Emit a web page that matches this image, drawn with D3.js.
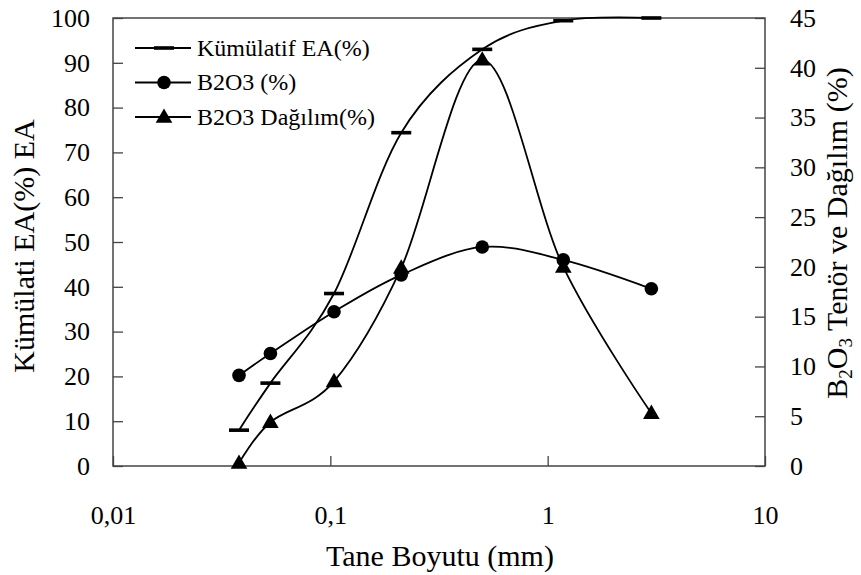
<!DOCTYPE html>
<html>
<head>
<meta charset="utf-8">
<script src="https://cdn.jsdelivr.net/npm/d3@7"></script>
<style>
  body { margin: 0; background: #fff; }
  svg text { font-family: "Liberation Serif", "Times New Roman", serif; fill: #000; }
</style>
</head>
<body>
<div id="chart"></div>
<script>
// datos
const taneBoyutu = [0.038, 0.053, 0.104, 0.212, 0.5, 1.18, 3.0]   // mm
const kumulatifEA = [8, 18.5, 38.5, 74.4, 93, 99.4, 100]          // eje izquierdo
const b2o3Tenor = [9.1, 11.3, 15.5, 19.2, 22.0, 20.7, 17.8]       // eje derecho
const b2o3Dagilim = [0.3, 4.4, 8.5, 19.9, 40.8, 20.0, 5.3]        // eje derecho

const xTicks = [0.01, 0.1, 1, 10]
const xTickLabels = ["0,01", "0,1", "1", "10"]
const yLeftTicks = d3.range(0, 101, 10)
const yRightTicks = d3.range(0, 46, 5)

const legendItems = ["Kümülatif EA(%)", "B2O3 (%)", "B2O3 Dağılım(%)"]

const width = 861
const height = 575
const margin = { top: 18, bottom: 109, left: 113, right: 96 }
const innerW = width - margin.left - margin.right
const innerH = height - margin.top - margin.bottom

const svg = d3.select("div#chart").append("svg").attr("width", width).attr("height", height)

const x = d3.scaleLog().domain([0.01, 10]).range([0, innerW])
const yL = d3.scaleLinear().domain([0, 100]).range([innerH, 0])
const yR = d3.scaleLinear().domain([0, 45]).range([innerH, 0])

const g = svg.append("g").attr("transform", `translate(${margin.left},${margin.top})`)

// marco
g.append("rect").attr("width", innerW).attr("height", innerH)
  .attr("fill", "none").attr("stroke", "#444").attr("stroke-width", 1.5)

const tickFont = 26

const xAxis = d3.axisBottom(x).tickValues(xTicks).tickFormat((d, i) => xTickLabels[i])
  .tickSizeInner(-10).tickSizeOuter(0).tickPadding(40)
const yAxisL = d3.axisLeft(yL).tickValues(yLeftTicks).tickSizeInner(-10).tickSizeOuter(0).tickPadding(23)
const yAxisR = d3.axisRight(yR).tickValues(yRightTicks).tickSizeInner(-10).tickSizeOuter(0).tickPadding(25)

const xAxisG = g.append("g").attr("transform", `translate(0,${innerH})`).call(xAxis)
const yAxisLG = g.append("g").call(yAxisL)
const yAxisRG = g.append("g").attr("transform", `translate(${innerW},0)`).call(yAxisR)

;[xAxisG, yAxisLG, yAxisRG].forEach(a => {
  a.attr("font-family", null)
  a.select(".domain").remove()
  a.selectAll(".tick line").attr("stroke", "#444").attr("stroke-width", 1.3)
  a.selectAll(".tick text").style("font-size", tickFont + "px")
})

// títulos de ejes
svg.append("text")
  .attr("x", 440).attr("y", 566)
  .attr("text-anchor", "middle").style("font-size", "30px")
  .text("Tane Boyutu (mm)")

svg.append("text")
  .attr("transform", "translate(34,246) rotate(-90)")
  .attr("text-anchor", "middle").style("font-size", "30px")
  .text("Kümülati EA(%) EA")

const rTitle = svg.append("text")
  .attr("transform", "translate(847,233) rotate(-90)")
  .attr("text-anchor", "middle").style("font-size", "30px")
rTitle.append("tspan").text("B")
rTitle.append("tspan").attr("dy", 5).style("font-size", "19px").text("2")
rTitle.append("tspan").attr("dy", -5).text("O")
rTitle.append("tspan").attr("dy", 5).style("font-size", "19px").text("3")
rTitle.append("tspan").attr("dy", -5).text(" Tenör ve Dağılım (%)")

// líneas
const curve = d3.curveCatmullRom.alpha(0)
const lineL = d3.line().x(d => x(d[0])).y(d => yL(d[1])).curve(curve)
const lineR = d3.line().x(d => x(d[0])).y(d => yR(d[1])).curve(curve)

const dataKum = taneBoyutu.map((t, i) => [t, kumulatifEA[i]])
const dataTen = taneBoyutu.map((t, i) => [t, b2o3Tenor[i]])
const dataDag = taneBoyutu.map((t, i) => [t, b2o3Dagilim[i]])

g.append("path").attr("d", lineL(dataKum)).attr("fill", "none").attr("stroke", "#000").attr("stroke-width", 1.8)
g.append("path").attr("d", lineR(dataTen)).attr("fill", "none").attr("stroke", "#000").attr("stroke-width", 1.8)
g.append("path").attr("d", lineR(dataDag)).attr("fill", "none").attr("stroke", "#000").attr("stroke-width", 1.8)

// marcadores
const triangle = d3.symbol().type(d3.symbolTriangle).size(120)

function dash(sel) {
  sel.append("rect").attr("x", -10).attr("y", -1.8).attr("width", 20).attr("height", 3.6).attr("fill", "#000")
}
function circle(sel) {
  sel.append("circle").attr("r", 6.8).attr("fill", "#000")
}
function tri(sel) {
  sel.append("path").attr("d", triangle).attr("transform", "translate(0,1)").attr("fill", "#000")
}

g.selectAll("g.kum").data(dataKum).join("g").attr("class", "kum")
  .attr("transform", d => `translate(${x(d[0])},${yL(d[1])})`).call(dash)
g.selectAll("g.ten").data(dataTen).join("g").attr("class", "ten")
  .attr("transform", d => `translate(${x(d[0])},${yR(d[1])})`).call(circle)
g.selectAll("g.dag").data(dataDag).join("g").attr("class", "dag")
  .attr("transform", d => `translate(${x(d[0])},${yR(d[1])})`).call(tri)

// leyenda
const markers = [dash, circle, tri]
const legend = svg.append("g").attr("transform", "translate(135,48)")
legendItems.forEach((name, i) => {
  const row = legend.append("g").attr("transform", `translate(0,${i * 34.5})`)
  row.append("line").attr("x1", 0).attr("x2", 56).attr("stroke", "#000").attr("stroke-width", 1.8)
  row.append("g").attr("transform", "translate(29,0)").call(markers[i])
  row.append("text").attr("x", 62).attr("dy", "0.33em").style("font-size", "24px").text(name)
})
</script>
</body>
</html>
